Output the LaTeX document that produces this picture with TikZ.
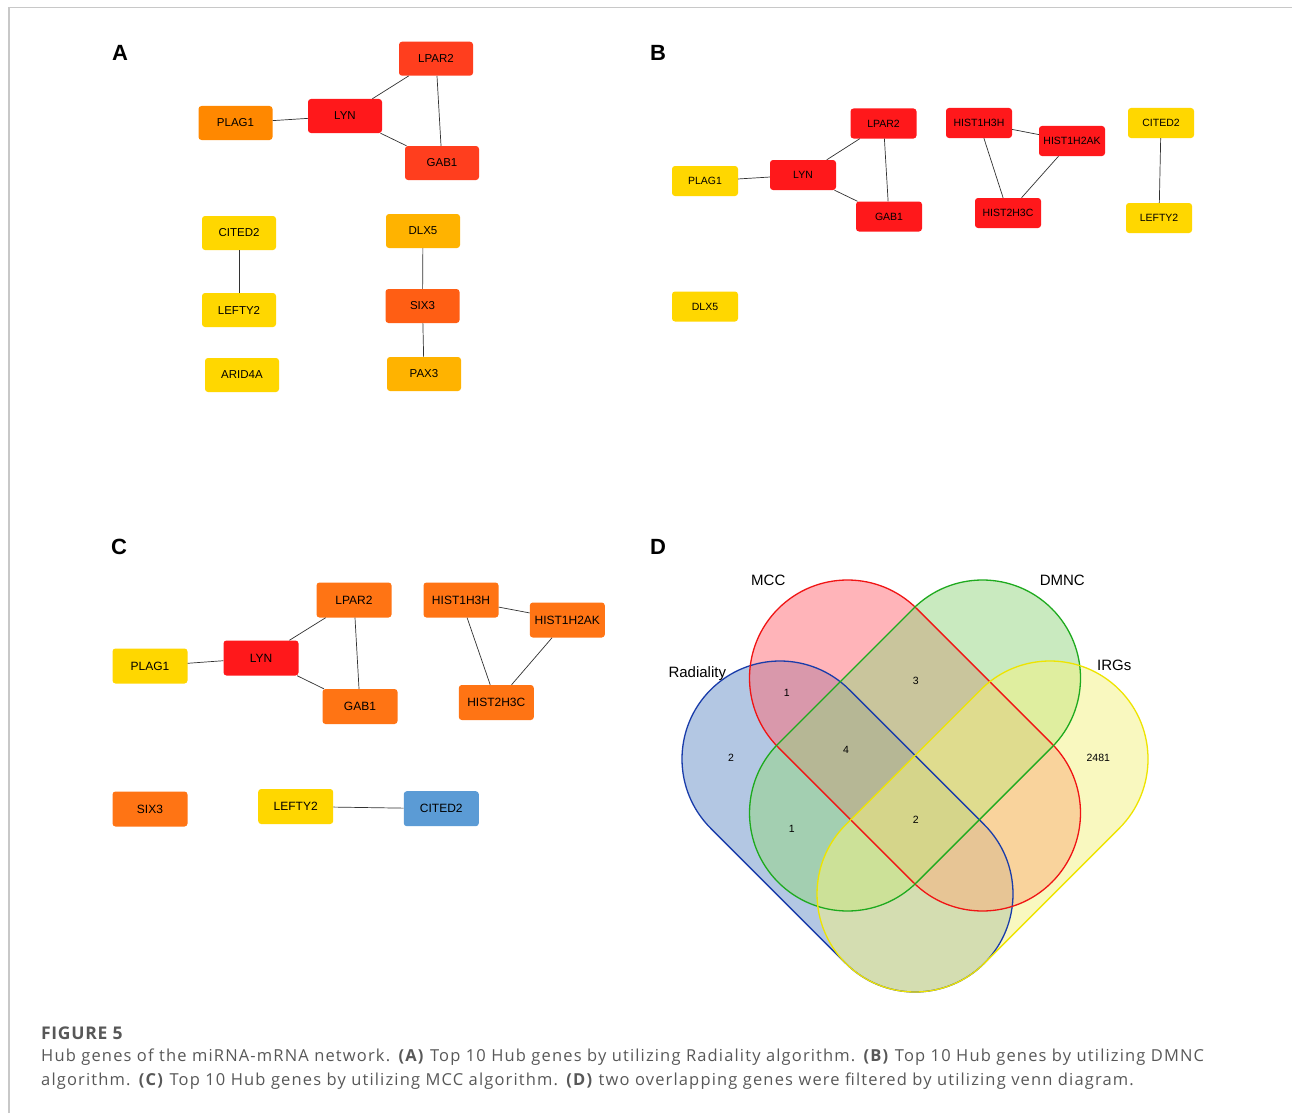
\documentclass[tikz,border=0pt]{standalone}
\usepackage{fontspec}
\setmainfont{Liberation Sans}
\newfontfamily\capfont[LetterSpace=7.0]{Open Sans}
\newfontfamily\figfont[LetterSpace=4]{Open Sans}
\definecolor{cRed}{RGB}{255,24,27}
\definecolor{cRedOr}{RGB}{255,62,30}
\definecolor{cOrange}{RGB}{255,136,0}
\definecolor{cGold}{RGB}{255,179,0}
\definecolor{cSix}{RGB}{255,94,20}
\definecolor{cYellow}{RGB}{255,215,0}
\definecolor{cOrC}{RGB}{255,116,20}
\definecolor{cBlue}{RGB}{91,155,213}
\definecolor{edgec}{RGB}{50,50,50}
\definecolor{capgray}{RGB}{88,88,88}
\definecolor{framegray}{RGB}{200,200,200}
\definecolor{vRadF}{RGB}{105,145,201}
\definecolor{vMccF}{RGB}{255,107,117}
\definecolor{vDmnF}{RGB}{149,215,129}
\definecolor{vIrgF}{RGB}{245,243,129}
\definecolor{vRadL}{RGB}{25,60,170}
\definecolor{vMccL}{RGB}{240,20,20}
\definecolor{vDmnL}{RGB}{30,170,30}
\definecolor{vIrgL}{RGB}{238,228,0}
\newcommand\stadium[4]{%
  \begin{scope}[shift={(#1,#2)},rotate=#3]
    \path[#4] (0,98) -- (190.9,98) arc[start angle=90,end angle=-90,radius=98]
      -- (0,-98) arc[start angle=-90,end angle=-270,radius=98] -- cycle;
  \end{scope}}
\begin{document}
\begin{tikzpicture}[x=1pt,y=1pt,
  gA/.style={rectangle,rounded corners=3pt,minimum width=74pt,minimum height=34pt,inner sep=0pt,font=\fontsize{11.5}{12}\selectfont},
  gB/.style={rectangle,rounded corners=3pt,minimum width=66pt,minimum height=30pt,inner sep=0pt,font=\fontsize{10.5}{11}\selectfont},
  gC/.style={rectangle,rounded corners=3pt,minimum width=75pt,minimum height=35pt,inner sep=0pt,font=\fontsize{12}{13}\selectfont},
  edge/.style={draw=edgec,line width=0.7pt},
  plabel/.style={font=\fontsize{22}{24}\selectfont\bfseries,inner sep=0pt},
  setlab/.style={font=\fontsize{15}{16}\selectfont,inner sep=0pt},
  numlab/.style={font=\fontsize{10.5}{11}\selectfont,inner sep=0pt}]
\useasboundingbox (0,0) rectangle (1292,-1113);
\fill[white] (0,0) rectangle (1292,-1113);
\draw[framegray,line width=1.5pt] (9,-1113) -- (9,-7.5) -- (1292,-7.5);

% ---------- Panel A ----------
\node[plabel] (labA) at (120,-53) {A};
\node[gA,fill=cRedOr] (aLPAR2) at (436,-58.7) {LPAR2};
\node[gA,fill=cRed] (aLYN) at (345,-116) {LYN};
\node[gA,fill=cOrange] (aPLAG1) at (235.5,-123) {PLAG1};
\node[gA,fill=cRedOr] (aGAB1) at (442,-163) {GAB1};
\node[gA,fill=cYellow] (aCITED2) at (239,-233) {CITED2};
\node[gA,fill=cYellow] (aLEFTY2) at (239,-310) {LEFTY2};
\node[gA,fill=cYellow] (aARID4A) at (242,-375) {ARID4A};
\node[gA,fill=cGold] (aDLX5) at (423,-231) {DLX5};
\node[gA,fill=cSix] (aSIX3) at (422.5,-306) {SIX3};
\node[gA,fill=cGold] (aPAX3) at (424,-374) {PAX3};
\draw[edge] (aPLAG1) -- (aLYN);
\draw[edge] (aLYN) -- (aLPAR2);
\draw[edge] (aLYN) -- (aGAB1);
\draw[edge] (aLPAR2) -- (aGAB1);
\draw[edge] (aCITED2) -- (aLEFTY2);
\draw[edge] (aDLX5) -- (aSIX3);
\draw[edge] (aSIX3) -- (aPAX3);

% ---------- Panel B ----------
\node[plabel] (labB) at (658,-53) {B};
\node[gB,fill=cRed] (bLPAR2) at (883.5,-123.5) {LPAR2};
\node[gB,fill=cRed] (bLYN) at (803,-175) {LYN};
\node[gB,fill=cYellow] (bPLAG1) at (705,-181) {PLAG1};
\node[gB,fill=cRed] (bGAB1) at (889,-216.5) {GAB1};
\node[gB,fill=cRed] (bH3H) at (979,-123) {HIST1H3H};
\node[gB,fill=cRed] (bH2AK) at (1072,-141) {HIST1H2AK};
\node[gB,fill=cRed] (bH2H3C) at (1008,-213) {HIST2H3C};
\node[gB,fill=cYellow] (bCITED2) at (1161,-123) {CITED2};
\node[gB,fill=cYellow] (bLEFTY2) at (1159,-218) {LEFTY2};
\node[gB,fill=cYellow] (bDLX5) at (705,-306.5) {DLX5};
\draw[edge] (bPLAG1) -- (bLYN);
\draw[edge] (bLYN) -- (bLPAR2);
\draw[edge] (bLYN) -- (bGAB1);
\draw[edge] (bLPAR2) -- (bGAB1);
\draw[edge] (bH3H) -- (bH2AK);
\draw[edge] (bH3H) -- (bH2H3C);
\draw[edge] (bH2AK) -- (bH2H3C);
\draw[edge] (bCITED2) -- (bLEFTY2);

% ---------- Panel C ----------
\node[plabel] (labC) at (119,-547) {C};
\node[gC,fill=cOrC] (cLPAR2) at (354,-600) {LPAR2};
\node[gC,fill=cRed] (cLYN) at (261,-658) {LYN};
\node[gC,fill=cYellow] (cPLAG1) at (150,-666) {PLAG1};
\node[gC,fill=cOrC] (cGAB1) at (360,-706.5) {GAB1};
\node[gC,fill=cOrC] (cH3H) at (461,-600) {HIST1H3H};
\node[gC,fill=cOrC] (cH2AK) at (567.3,-620) {HIST1H2AK};
\node[gC,fill=cOrC] (cH2H3C) at (496.3,-702.5) {HIST2H3C};
\node[gC,fill=cOrC] (cSIX3) at (150,-809) {SIX3};
\node[gC,fill=cYellow] (cLEFTY2) at (295.7,-806.5) {LEFTY2};
\node[gC,fill=cBlue] (cCITED2) at (441.3,-808.7) {CITED2};
\draw[edge] (cPLAG1) -- (cLYN);
\draw[edge] (cLYN) -- (cLPAR2);
\draw[edge] (cLYN) -- (cGAB1);
\draw[edge] (cLPAR2) -- (cGAB1);
\draw[edge] (cH3H) -- (cH2AK);
\draw[edge] (cH3H) -- (cH2H3C);
\draw[edge] (cH2AK) -- (cH2H3C);
\draw[edge] (cLEFTY2) -- (cCITED2);

% ---------- Panel D ----------
\node[plabel] (labD) at (658,-547) {D};
\stadium{780}{-759}{-45}{fill=vRadF,fill opacity=0.5}
\stadium{847.5}{-678}{-45}{fill=vMccF,fill opacity=0.5}
\stadium{982.5}{-678}{-135}{fill=vDmnF,fill opacity=0.5}
\stadium{1050}{-759}{-135}{fill=vIrgF,fill opacity=0.5}
\stadium{780}{-759}{-45}{draw=vRadL,line width=1.3pt}
\stadium{847.5}{-678}{-45}{draw=vMccL,line width=1.3pt}
\stadium{982.5}{-678}{-135}{draw=vDmnL,line width=1.3pt}
\stadium{1050}{-759}{-135}{draw=vIrgL,line width=1.3pt}
\node[setlab] (sMCC) at (768.3,-580) {MCC};
\node[setlab] (sDMNC) at (1062.3,-580) {DMNC};
\node[setlab] (sRad) at (697.3,-673.3) {Radiality};
\node[setlab] (sIRG) at (1114.3,-665) {IRGs};
\node[numlab] (n1) at (786.7,-693.3) {1};
\node[numlab] (n2) at (915.7,-680.7) {3};
\node[numlab] (n3) at (731,-758.3) {2};
\node[numlab] (n4) at (846,-750) {4};
\node[numlab] (n5) at (1098.3,-758.3) {2481};
\node[numlab] (n6) at (791.7,-829.3) {1};
\node[numlab] (n7) at (915.7,-820) {2};

% ---------- Caption ----------
\node[anchor=base west,inner sep=0pt,text=capgray,font=\figfont\fontsize{17.5}{20}\selectfont\bfseries] (figlab) at (41,-1039.3) {FIGURE 5};
\node[anchor=base west,inner sep=0pt,text=capgray,font=\capfont\fontsize{16.5}{20}\selectfont] (cap1) at (41,-1061.7) {Hub genes of the miRNA-mRNA network. \textbf{(A)} Top 10 Hub genes by utilizing Radiality algorithm. \textbf{(B)} Top 10 Hub genes by utilizing DMNC};
\node[anchor=base west,inner sep=0pt,text=capgray,font=\capfont\fontsize{16.5}{20}\selectfont] (cap2) at (41,-1085) {algorithm. \textbf{(C)} Top 10 Hub genes by utilizing MCC algorithm. \textbf{(D)} two overlapping genes were filtered by utilizing venn diagram.};
\end{tikzpicture}
\end{document}
